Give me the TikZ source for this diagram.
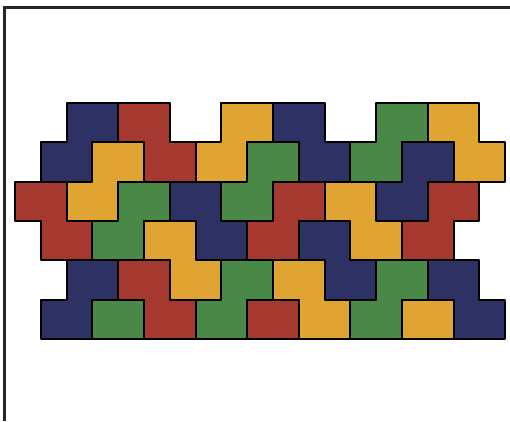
\documentclass[tikz,border=0pt]{standalone}
\definecolor{tblue}{RGB}{46,49,100}
\definecolor{tred}{RGB}{166,57,47}
\definecolor{tyellow}{RGB}{224,164,50}
\definecolor{tgreen}{RGB}{73,136,70}
\tikzset{
  tile/.style={draw=black, line width=2pt, line join=round},
  frameline/.style={draw=black!85, line width=2.2pt}
}
% piece: colour, column, row, offset (+1 / -1)
\newcommand{\tpiece}[4]{%
  \path[tile, fill=#1] (#2,#3) -- ++(2,0) -- ++(0,1) -- ++(#4,0) -- ++(0,1)
    -- ++(-2,0) -- ++(0,-1) -- ++(-#4,0) -- cycle;}
\newcommand{\tcell}[3]{%
  \path[tile, fill=#1] (#2,#3) rectangle ++(2,1);}
\begin{document}
\begin{tikzpicture}[x=1pt,y=-1pt]
\useasboundingbox (0,0) rectangle (510,421);
\path[fill=white] (0,0) rectangle (510,421);
\draw[frameline] (4.5,421) -- (4.5,7.5) -- (510,7.5);
\begin{scope}[shift={(15,103)}, x=25.8pt, y=-39.3pt]
  % rows 0-1
  \tpiece{tblue}{2}{0}{-1}
  \tpiece{tred}{4}{0}{1}
  \tpiece{tyellow}{8}{0}{-1}
  \tpiece{tblue}{10}{0}{1}
  \tpiece{tgreen}{14}{0}{-1}
  \tpiece{tyellow}{16}{0}{1}
  % rows 1-2
  \tpiece{tyellow}{3}{1}{-1}
  \tpiece{tgreen}{9}{1}{-1}
  \tpiece{tblue}{15}{1}{-1}
  % rows 2-3
  \tpiece{tred}{0}{2}{1}
  \tpiece{tgreen}{4}{2}{-1}
  \tpiece{tblue}{6}{2}{1}
  \tpiece{tred}{10}{2}{-1}
  \tpiece{tyellow}{12}{2}{1}
  \tpiece{tred}{16}{2}{-1}
  % rows 3-4
  \tpiece{tyellow}{5}{3}{1}
  \tpiece{tblue}{11}{3}{1}
  % rows 4-5
  \tpiece{tblue}{2}{4}{-1}
  \tpiece{tred}{4}{4}{1}
  \tpiece{tgreen}{8}{4}{-1}
  \tpiece{tyellow}{10}{4}{1}
  \tpiece{tgreen}{14}{4}{-1}
  \tpiece{tblue}{16}{4}{1}
  % single cells in the last row
  \tcell{tgreen}{3}{5}
  \tcell{tred}{9}{5}
  \tcell{tyellow}{15}{5}
\end{scope}
\end{tikzpicture}
\end{document}
